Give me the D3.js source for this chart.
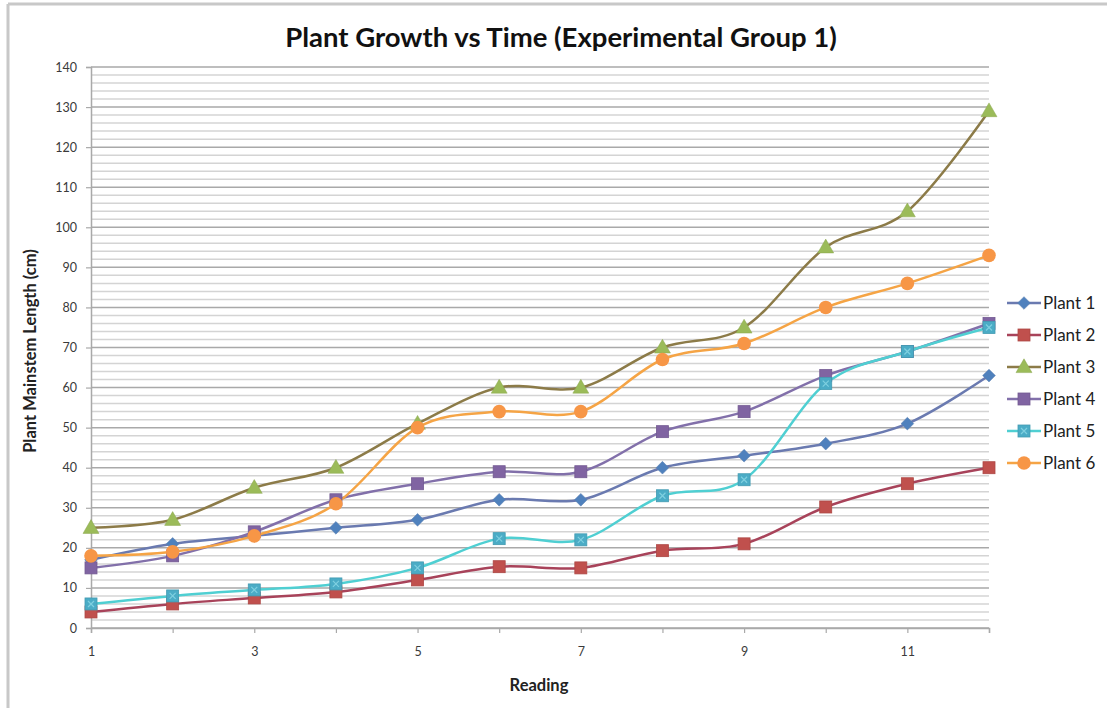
<!DOCTYPE html>
<html>
<head>
<meta charset="utf-8">
<script src="https://cdn.jsdelivr.net/npm/d3@7/dist/d3.min.js"></script>
<style>
  body { margin: 0; background: #fff; }
  text { font-family: Lato, "Open Sans", sans-serif; }
</style>
</head>
<body>
<svg id="chart" width="1107" height="708"></svg>
<script>
// readings 1..12
var readings = [1, 2, 3, 4, 5, 6, 7, 8, 9, 10, 11, 12];
var xTickLabels = [1, 3, 5, 7, 9, 11];
var yTickLabels = [0, 10, 20, 30, 40, 50, 60, 70, 80, 90, 100, 110, 120, 130, 140];

var plant1 = [17, 21, 23, 25, 27, 32, 32, 40, 43, 46, 51, 63];
var plant2 = [4, 6, 7.5, 9, 12, 15.3, 15, 19.3, 21, 30.2, 36, 40];
var plant3 = [25, 27, 35, 40, 51, 60, 60, 70, 75, 95, 104, 129];
var plant4 = [15, 18, 24, 32, 36, 39, 39, 49, 54, 63, 69, 76];
var plant5 = [6, 8, 9.5, 11, 15, 22.3, 22, 33, 37, 61, 69, 75];
var plant6 = [18, 19, 23, 31, 50, 54, 54, 67, 71, 80, 86, 93];

var seriesNames = ["Plant 1", "Plant 2", "Plant 3", "Plant 4", "Plant 5", "Plant 6"];
var seriesValues = [plant1, plant2, plant3, plant4, plant5, plant6];
var lineColors = ["#6a7ab0", "#a8435a", "#8c7b48", "#8270aa", "#4fcfd2", "#f5a445"];
var markerColors = ["#4f81bd", "#c0504d", "#9bbb59", "#8064a2", "#4bacc6", "#f79646"];
var markerKinds = ["diamond", "square", "triangle", "square", "squarex", "circle"];

var svg = d3.select("#chart");

var PLOT_LEFT = 91, PLOT_RIGHT = 989, PLOT_TOP = 67, PLOT_BOTTOM = 628;

var x = d3.scaleLinear().domain([1, 12]).range([PLOT_LEFT, PLOT_RIGHT]);
var y = d3.scaleLinear().domain([0, 140]).range([PLOT_BOTTOM, PLOT_TOP]);

// chart frame (only top and left edge visible)
svg.append("line").attr("x1", 8).attr("x2", 1107).attr("y1", 4).attr("y2", 4)
    .style("stroke", "#c8c8c8").style("stroke-width", 3);
svg.append("line").attr("x1", 8).attr("x2", 8).attr("y1", 4).attr("y2", 708)
    .style("stroke", "#c8c8c8").style("stroke-width", 3);

// minor gridlines every 2
var minor = d3.range(0, 141, 2).filter(function(v){ return v % 10 != 0; });
svg.append("g").selectAll("line").data(minor).enter().append("line")
    .attr("x1", PLOT_LEFT).attr("x2", PLOT_RIGHT)
    .attr("y1", function(d){ return y(d); }).attr("y2", function(d){ return y(d); })
    .style("stroke", "#d4d4d4").style("stroke-width", 1.5);

// major gridlines every 10
svg.append("g").selectAll("line").data(yTickLabels).enter().append("line")
    .attr("x1", PLOT_LEFT).attr("x2", PLOT_RIGHT)
    .attr("y1", function(d){ return y(d); }).attr("y2", function(d){ return y(d); })
    .style("stroke", "#a9a9a9").style("stroke-width", 1.5);

// y axis
var yAxis = svg.append("g")
    .attr("transform", "translate(" + PLOT_LEFT + ",0)")
    .call(d3.axisLeft(y).tickValues(yTickLabels).tickSize(5).tickPadding(9));
yAxis.select(".domain").style("stroke", "#a9a9a9").style("stroke-width", 1.5);
yAxis.selectAll(".tick line").style("stroke", "#a9a9a9").style("stroke-width", 1.2);
yAxis.selectAll(".tick text").style("font-size", "12.5px").style("fill", "#3a3a3a")
    .style("font-family", "Lato, 'Open Sans', sans-serif");

// x axis
var xAxis = svg.append("g")
    .attr("transform", "translate(0," + PLOT_BOTTOM + ")")
    .call(d3.axisBottom(x).tickValues(readings).tickSize(5).tickPadding(14)
        .tickFormat(function(d){ return xTickLabels.indexOf(d) != -1 ? d : ""; }));
xAxis.select(".domain").style("stroke", "#a9a9a9").style("stroke-width", 1.5);
xAxis.selectAll(".tick line").style("stroke", "#a9a9a9").style("stroke-width", 1.2);
xAxis.selectAll(".tick text").style("font-size", "12.5px").style("fill", "#3a3a3a")
    .style("font-family", "Lato, 'Open Sans', sans-serif");

// lines
var line = d3.line()
    .x(function(d, i){ return x(readings[i]); })
    .y(function(d){ return y(d); })
    .curve(d3.curveCardinal);

seriesValues.forEach(function(values, s){
    svg.append("path")
        .datum(values)
        .attr("d", line)
        .style("fill", "none")
        .style("stroke", lineColors[s])
        .style("stroke-width", 2.5);
});

function drawMarker(g, kind, color, cx, cy) {
    if(kind == "diamond"){
        g.append("rect").attr("x", -4.5).attr("y", -4.5).attr("width", 9).attr("height", 9)
            .attr("transform", "translate(" + cx + "," + cy + ") rotate(45)")
            .style("fill", color).style("stroke", "#5d7fb0").style("stroke-width", 0.5);
    }
    else if(kind == "square" || kind == "squarex"){
        g.append("rect").attr("x", cx - 6).attr("y", cy - 6).attr("width", 12).attr("height", 12)
            .style("fill", color).style("stroke", d3.color(color).darker(0.3)).style("stroke-width", 0.8);
        if(kind == "squarex"){
            g.append("path").attr("d", "M" + (cx - 3) + "," + (cy - 3) + "L" + (cx + 3) + "," + (cy + 3) +
                    "M" + (cx + 3) + "," + (cy - 3) + "L" + (cx - 3) + "," + (cy + 3))
                .style("stroke", "#7fd0e0").style("stroke-width", 1.2);
        }
    }
    else if(kind == "triangle"){
        g.append("path").attr("d", d3.symbol(d3.symbolTriangle, 110)())
            .attr("transform", "translate(" + cx + "," + (cy + 1) + ")")
            .style("fill", color).style("stroke", "#8aa64e").style("stroke-width", 0.5);
    }
    else{
        g.append("circle").attr("cx", cx).attr("cy", cy).attr("r", 6.8)
            .style("fill", color);
    }
}

// markers
seriesValues.forEach(function(values, s){
    var g = svg.append("g");
    values.forEach(function(v, i){
        drawMarker(g, markerKinds[s], markerColors[s], x(readings[i]), y(v));
    });
});

// legend
var legend = svg.append("g");
seriesNames.forEach(function(name, s){
    var ly = 303 + s * 32;
    legend.append("line").attr("x1", 1007).attr("x2", 1041).attr("y1", ly).attr("y2", ly)
        .style("stroke", lineColors[s]).style("stroke-width", 2.5);
    drawMarker(legend, markerKinds[s], markerColors[s], 1024, ly);
    legend.append("text").attr("x", 1043).attr("y", ly + 6)
        .text(name).style("font-size", "17px").style("fill", "#222");
});

// titles
svg.append("text").attr("x", 561).attr("y", 47).attr("text-anchor", "middle")
    .text("Plant Growth vs Time (Experimental Group 1)")
    .style("font-size", "27.5px").style("font-weight", "bold").style("fill", "#111");

svg.append("text").attr("x", 539).attr("y", 691).attr("text-anchor", "middle")
    .text("Reading")
    .style("font-size", "16.5px").style("font-weight", "bold").style("fill", "#222");

svg.append("text").attr("transform", "translate(36,351) rotate(-90)").attr("text-anchor", "middle")
    .text("Plant Mainstem Length (cm)")
    .style("font-size", "16.5px").style("font-weight", "bold").style("fill", "#222");
</script>
</body>
</html>
